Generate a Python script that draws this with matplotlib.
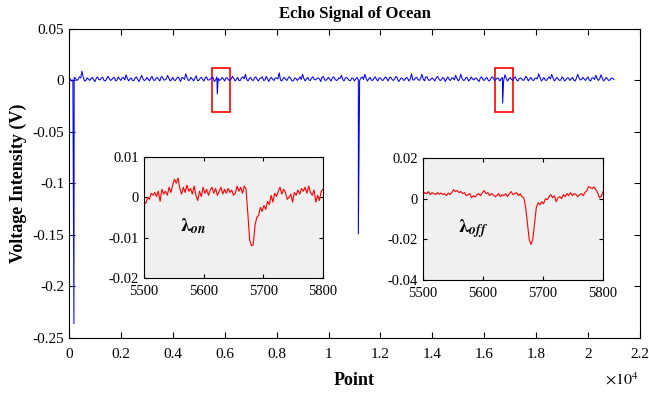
import matplotlib
matplotlib.use('Agg')
import matplotlib.pyplot as plt
import numpy as np
from matplotlib.patches import Rectangle
from matplotlib.ticker import FuncFormatter

plt.rcParams['font.family'] = ['Liberation Serif', 'DejaVu Serif']
plt.rcParams['mathtext.fontset'] = 'stix'

# main echo signal, background noise read every 100 points (0, 100, ...)
noise_step = 100
noise_y = [
    0.002, -0.0005, 0.003, 0.0, 0.0035, 0.009, -0.0005, 0.0025, 0.0, 0.003,
    -0.001, 0.0035, 0.0005, 0.003, -0.0005, 0.004, 0.0, 0.0025, -0.0005, 0.0035,
    0.0, 0.003, 0.0055, -0.0005, 0.0025, 0.0, 0.0035, -0.001, 0.005, 0.0,
    0.003, -0.0005, 0.004, 0.0, 0.003, -0.0005, 0.0035, 0.0005, 0.005, -0.0005,
    0.003, 0.0, 0.0035, -0.001, 0.0025, 0.0065, 0.0, 0.003, -0.0005, 0.0045,
    0.0, 0.003, -0.0005, 0.0035, 0.0005, 0.003, -0.001, 0.0035, 0.0, 0.003,
    -0.0005, 0.0025, 0.0, 0.004, -0.0005, 0.003, 0.0, 0.0035, 0.006, -0.0005,
    0.003, 0.0, 0.0035, -0.0005, 0.0025, 0.0, 0.004, -0.001, 0.003, 0.0,
    0.0025, 0.0075, -0.0005, 0.003, 0.0, 0.0035, -0.0005, 0.0025, 0.0, 0.0035,
    0.006, -0.0005, 0.003, 0.0, 0.0035, 0.0005, 0.0025, -0.001, 0.004, 0.0,
    0.003, -0.0005, 0.0035, 0.0, 0.0025, 0.005, -0.0005, 0.003, 0.0, 0.0025,
    -0.0005, 0.003, 0.0, 0.0035, 0.006, -0.0005, 0.003, 0.0, 0.0035, -0.0005,
    0.0025, 0.0, 0.0035, -0.0005, 0.003, 0.0, 0.004, -0.001, 0.0025, 0.0,
    0.003, -0.0005, 0.0065, 0.0005, 0.003, 0.0, 0.006, -0.0005, 0.0035, 0.0,
    0.0025, -0.0005, 0.004, 0.0, 0.003, -0.001, 0.0035, 0.0, 0.0025, 0.005,
    -0.0005, 0.006, 0.0, 0.003, -0.0005, 0.0035, 0.0005, 0.0025, -0.001, 0.0035,
    0.0, 0.003, -0.0005, 0.0035, 0.0, 0.0025, -0.0005, 0.003, 0.0055, -0.0005,
    0.003, 0.0, 0.0035, -0.0005, 0.0025, 0.0, 0.004, -0.0005, 0.003, 0.0,
    0.0025, 0.0065, -0.0005, 0.003, 0.0, 0.0035, 0.006, -0.0005, 0.003, 0.0,
    0.0035, -0.0005, 0.0025, 0.0, 0.003, -0.0005, 0.006, 0.0005, 0.003, 0.0,
    0.0035, -0.0005, 0.0025, 0.005, 0.0, 0.0055, -0.0005, 0.003, 0.0, 0.0025,
    0.001,
]
# noise read half way between those samples (50, 150, ...)
noise_mid = [
    0.0015, 0.0005, 0.002, 0.001, 0.0025, 0.003, 0.0, 0.0015, 0.002, 0.0005,
    0.002, 0.001, 0.0025, 0.0, 0.0015, 0.002, 0.001, 0.003, 0.0005, 0.0015,
    0.0025, 0.0005, 0.002, 0.0015, 0.0, 0.0025, 0.001, 0.002, 0.0015, 0.0005,
    0.0015, 0.0025, 0.0005, 0.002, 0.001, 0.0035, 0.0005, 0.0015, 0.002, 0.001,
    0.0005, 0.002, 0.0015, 0.003, 0.001, 0.0025, 0.0005, 0.0015, 0.002, 0.0,
    0.002, 0.001, 0.0025, 0.0005, 0.0015, 0.003, 0.0005, 0.002, 0.001, 0.0015,
    0.0025, 0.0005, 0.0015, 0.002, 0.001, 0.0, 0.0025, 0.0015, 0.001, 0.002,
    0.0005, 0.0025, 0.001, 0.002, 0.0035, 0.0005, 0.0015, 0.002, 0.001, 0.0025,
    0.0015, 0.0005, 0.002, 0.001, 0.0025, 0.0015, 0.0, 0.002, 0.0015, 0.001,
    0.002, 0.0015, 0.0005, 0.0025, 0.001, 0.002, 0.0015, 0.003, 0.0005, 0.0015,
    0.001, 0.0025, 0.0015, 0.0005, 0.002, 0.001, 0.0025, 0.0015, 0.0, 0.002,
    0.0015, 0.0005, 0.0025, 0.001, 0.002, 0.0015, 0.0005, 0.002, 0.001, 0.0025,
    0.0005, 0.002, 0.0015, 0.003, 0.001, 0.0015, 0.0025, 0.0005, 0.002, 0.001,
    0.002, 0.0015, 0.0005, 0.0025, 0.001, 0.002, 0.0015, 0.0035, 0.0005, 0.0015,
    0.001, 0.0025, 0.0015, 0.0005, 0.002, 0.0015, 0.001, 0.0025, 0.0005, 0.002,
    0.0015, 0.002, 0.0005, 0.0025, 0.001, 0.0015, 0.002, 0.0005, 0.0025, 0.001,
    0.002, 0.0005, 0.0015, 0.0025, 0.001, 0.002, 0.0015, 0.0, 0.002, 0.0015,
    0.001, 0.0025, 0.0005, 0.002, 0.0015, 0.001, 0.0025, 0.0015, 0.0005, 0.002,
    0.0015, 0.003, 0.001, 0.0005, 0.002, 0.0015, 0.0025, 0.001, 0.0015, 0.0005,
    0.002, 0.001, 0.0025, 0.0015, 0.0005, 0.002, 0.003, 0.001, 0.0015, 0.002,
    0.0005, 0.0025, 0.001, 0.002, 0.0015, 0.0025, 0.001, 0.0015, 0.0005, 0.002,
]
# single-point echoes (surface returns and the two laser pulses)
spike_x = [190, 5715, 11150, 16710]
spike_y = [-0.236, -0.013, -0.149, -0.022]

# zoomed pulses, read every 3 points from 5500 to 5800
zoom_step = 3
on_y = [
    -0.001, -0.0015, 0.0, -0.0005, 0.001, 0.0005, 0.0012, 0.0002, 0.0015, -0.001, 0.002,
    0.0008, 0.0015, 0.0005, 0.0025, 0.0012, 0.003, 0.0045, 0.0035, 0.0048, 0.0022,
    0.0008, 0.0025, 0.0012, 0.003, 0.0015, 0.0022, 0.0008, 0.0028, 0.0005, -0.0008,
    0.0015, 0.0002, 0.0025, 0.001, 0.002, 0.0005, 0.0018, 0.0025, 0.001, 0.0022,
    0.0005, 0.0015, 0.0025, 0.0008, 0.002, 0.001, 0.0022, 0.0012, 0.0018, 0.0005,
    0.001, 0.0028, 0.0015, 0.0025, 0.001, 0.0028, 0.002, -0.004, -0.0105, -0.012,
    -0.0118, -0.007, -0.005, -0.0045, -0.0025, -0.0035, -0.002, -0.003, -0.001, -0.0018,
    0.0005, -0.0012, 0.001, 0.0002, 0.0015, 0.0025, 0.0008, 0.002, 0.0012, -0.0005,
    0.0, 0.0008, -0.0012, 0.0012, 0.0005, 0.0018, 0.0008, 0.0022, 0.0015, 0.0025,
    0.001, 0.0028, 0.0012, 0.0005, 0.0018, -0.0012, 0.0005, -0.0008, 0.0015, 0.002,
]
off_y = [
    0.002, 0.003, 0.0025, 0.0035, 0.002, 0.003, 0.0025, 0.002, 0.003, 0.0022, 0.0028,
    0.002, 0.0025, 0.0015, 0.0028, 0.002, 0.003, 0.0045, 0.0035, 0.004, 0.003,
    0.0035, 0.0025, 0.003, 0.0015, 0.002, 0.0025, 0.0005, 0.0015, 0.0008, 0.002,
    0.0025, 0.0015, 0.003, 0.004, 0.0025, 0.003, 0.0015, 0.0025, 0.002, 0.001,
    0.0015, 0.0025, 0.001, 0.002, 0.0015, 0.0025, 0.001, 0.0025, 0.0035, 0.002,
    0.0025, 0.003, 0.0015, 0.0025, 0.001, 0.0005, -0.004, -0.012, -0.02, -0.0225,
    -0.02, -0.012, -0.004, -0.002, -0.003, -0.0015, -0.0025, 0.0, -0.0005, 0.001,
    0.002, 0.0005, 0.0015, -0.0015, 0.0005, 0.001, 0.0, 0.002, 0.001, 0.0025,
    0.0015, 0.003, 0.0015, 0.0025, 0.002, 0.001, 0.002, 0.0025, 0.0015, 0.003,
    0.004, 0.006, 0.0055, 0.005, 0.0058, 0.0045, 0.003, 0.0005, 0.001, 0.0035,
]

x = np.concatenate([np.arange(len(noise_y)) * noise_step,
                    np.arange(len(noise_mid)) * noise_step + noise_step // 2,
                    spike_x])
y = np.concatenate([noise_y, noise_mid, spike_y])
order = np.argsort(x, kind='stable')
x, y = x[order], y[order]

zx = 5500 + np.arange(len(on_y)) * zoom_step

fig = plt.figure(figsize=(6.49, 3.96), dpi=100)
ax = fig.add_axes([0.1063, 0.1465, 0.8797, 0.7803])
ax.plot(x, y, color='#0000ff', lw=0.75)
ax.set_xlim(0, 22000)
ax.set_ylim(-0.25, 0.05)
ax.set_xticks(np.arange(0, 22001, 2000))
ax.set_yticks([-0.25, -0.2, -0.15, -0.1, -0.05, 0, 0.05])
ax.xaxis.set_major_formatter(FuncFormatter(lambda v, p: '%g' % (v / 1e4)))
ax.yaxis.set_major_formatter(FuncFormatter(lambda v, p: '%g' % v))
ax.tick_params(direction='in', labelsize=11, top=True, right=True, length=4)
ax.tick_params(axis='x', pad=7)
ax.set_title('Echo Signal of Ocean', fontsize=12, fontweight='bold', pad=8)
ax.set_xlabel('Point', fontsize=13, fontweight='bold', labelpad=8)
ax.set_ylabel('Voltage Intensity (V)', fontsize=13, fontweight='bold', labelpad=4)
fig.text(0.984, 0.018, r'$\times10^{4}$', ha='right', va='bottom', fontsize=11.5)

# boxes around the two pulses
for bx in [5520, 16420]:
    ax.add_patch(Rectangle((bx, -0.031), 690, 0.043, fill=False,
                           edgecolor='#ff0000', lw=1.2))

def inset(rect, yv, ylim, yticks, label, ly):
    a = fig.add_axes(rect)
    a.set_facecolor('#f0f0f0')
    a.plot(zx, yv, color='#ff0000', lw=0.8)
    a.set_xlim(5500, 5800)
    a.set_ylim(*ylim)
    a.set_xticks([5500, 5600, 5700, 5800])
    a.set_yticks(yticks)
    a.yaxis.set_major_formatter(FuncFormatter(lambda v, p: '%g' % v))
    a.tick_params(direction='in', labelsize=10.5, top=True, right=True, length=3)
    a.tick_params(axis='x', pad=5)
    a.text(5583, ly, label, fontsize=14, ha='center', va='center')
    return a

inset([0.2219, 0.298, 0.2758, 0.3056], on_y, (-0.02, 0.01),
      [-0.02, -0.01, 0, 0.01], r'$\boldsymbol{\lambda}_{\mathbfit{on}}$', -0.0072)
inset([0.6518, 0.2929, 0.2773, 0.308], off_y, (-0.04, 0.02),
      [-0.04, -0.02, 0, 0.02], r'$\boldsymbol{\lambda}_{\mathbfit{off}}$', -0.0145)

fig.savefig('out.png', dpi=100)
